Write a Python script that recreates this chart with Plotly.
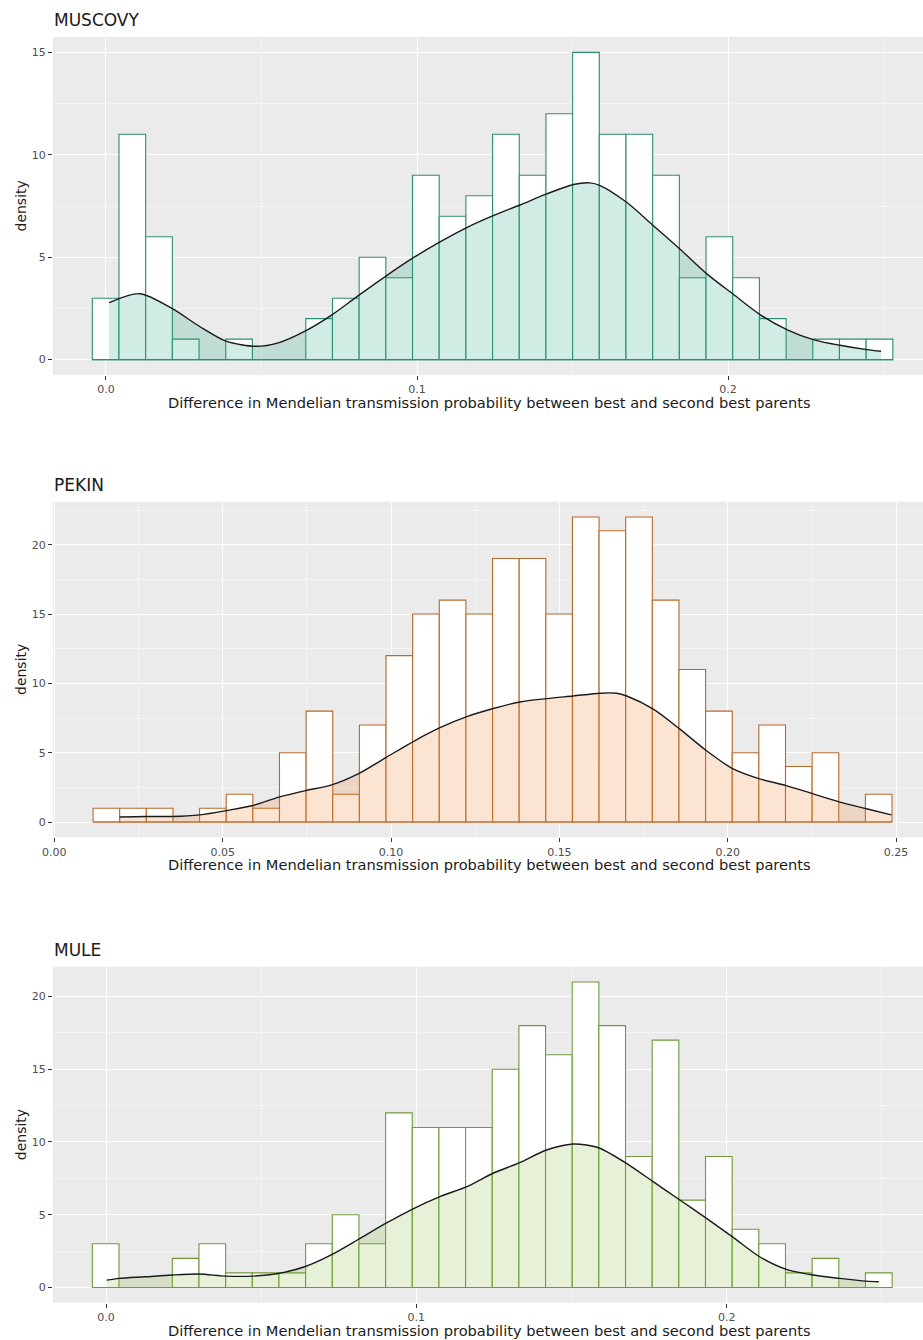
import plotly.graph_objects as go

# ---- histogram data (density per bin, 30 bins each) ----
muscovy_bin_start = -0.0044
muscovy_bin_width = 0.00858
muscovy_hist = [3, 11, 6, 1, 0, 1, 0, 0, 2, 3, 5, 4, 9, 7, 8,
                11, 9, 12, 15, 11, 11, 9, 4, 6, 4, 2, 0, 1, 1, 1]

pekin_bin_start = 0.0115
pekin_bin_width = 0.00791
pekin_hist = [1, 1, 1, 0, 1, 2, 1, 5, 8, 2, 7, 12, 15, 16, 15,
              19, 19, 15, 22, 21, 22, 16, 11, 8, 5, 7, 4, 5, 0, 2]

mule_bin_start = -0.0044
mule_bin_width = 0.00859
mule_hist = [3, 0, 0, 2, 3, 1, 1, 1, 3, 5, 3, 12, 11, 11, 11,
             15, 18, 16, 21, 18, 9, 17, 6, 9, 4, 3, 1, 2, 0, 1]

# ---- kernel density estimates ----
muscovy_kde_x = [0.001, 0.0109, 0.0212, 0.030, 0.0386, 0.0484, 0.0554, 0.064,
                 0.0724, 0.0809, 0.090, 0.0991, 0.1074, 0.116, 0.1245, 0.1331,
                 0.1417, 0.1503, 0.1556, 0.1589, 0.1674, 0.176, 0.1846, 0.1931,
                 0.2017, 0.2103, 0.2189, 0.2274, 0.236, 0.2446, 0.2492]
muscovy_kde_y = [2.78, 3.22, 2.5, 1.63, 0.90, 0.65, 0.82, 1.39,
                 2.16, 3.10, 4.08, 5.0, 5.75, 6.45, 7.03, 7.55,
                 8.09, 8.55, 8.63, 8.5, 7.68, 6.54, 5.39, 4.2,
                 3.19, 2.2, 1.47, 0.98, 0.70, 0.49, 0.41]

pekin_kde_x = [0.0194, 0.0271, 0.0351, 0.0432, 0.0512, 0.059, 0.0667, 0.0746,
               0.0824, 0.0902, 0.0986, 0.107, 0.1147, 0.1225, 0.1304, 0.1383,
               0.1463, 0.1541, 0.1621, 0.167, 0.170, 0.1779, 0.1858, 0.1937,
               0.2016, 0.2095, 0.2174, 0.2254, 0.2333, 0.2412, 0.2486]
pekin_kde_y = [0.36, 0.4, 0.4, 0.52, 0.83, 1.19, 1.8, 2.27,
               2.68, 3.47, 4.67, 5.86, 6.82, 7.6, 8.19, 8.66,
               8.9, 9.09, 9.29, 9.29, 9.09, 8.14, 6.7, 5.14,
               3.83, 3.11, 2.63, 2.03, 1.44, 0.96, 0.52]

mule_kde_x = [0.0002, 0.0042, 0.0126, 0.0212, 0.030, 0.0386, 0.0471, 0.0555,
              0.064, 0.0724, 0.081, 0.0901, 0.0993, 0.1076, 0.1167, 0.1247,
              0.1333, 0.1419, 0.1505, 0.1548, 0.1591, 0.1677, 0.1763, 0.1849,
              0.1935, 0.2021, 0.2106, 0.2192, 0.2278, 0.2364, 0.245, 0.249]
mule_kde_y = [0.5, 0.62, 0.73, 0.85, 0.92, 0.78, 0.78, 0.96,
              1.42, 2.22, 3.26, 4.4, 5.44, 6.24, 6.97, 7.85,
              8.58, 9.45, 9.86, 9.79, 9.57, 8.53, 7.27, 6.01,
              4.75, 3.44, 2.11, 1.24, 0.85, 0.62, 0.43, 0.39]

panel_titles = ["MUSCOVY", "PEKIN", "MULE"]
x_title = "Difference in Mendelian transmission probability between best and second best parents"
y_title = "density"

W, H = 923, 1340
FONT = "DejaVu Sans"

panels = [
    dict(title=panel_titles[0], start=muscovy_bin_start, width=muscovy_bin_width,
         hist=muscovy_hist, kx=muscovy_kde_x, ky=muscovy_kde_y,
         edge="#2a8f72", fill="rgba(27,158,119,0.2)",
         top=37, bottom=375, xrange=[-0.01704, 0.2627], yrange=[-0.75, 15.75],
         xdtick=0.1, xfmt=".1f", ydtick=5),
    dict(title=panel_titles[1], start=pekin_bin_start, width=pekin_bin_width,
         hist=pekin_hist, kx=pekin_kde_x, ky=pekin_kde_y,
         edge="#b8682a", fill="rgba(240,120,30,0.2)",
         top=501.7, bottom=837.3, xrange=[-0.0004, 0.258], yrange=[-1.1, 23.1],
         xdtick=0.05, xfmt=".2f", ydtick=5),
    dict(title=panel_titles[2], start=mule_bin_start, width=mule_bin_width,
         hist=mule_hist, kx=mule_kde_x, ky=mule_kde_y,
         edge="#6e9a3a", fill="rgba(120,180,40,0.18)",
         top=966.7, bottom=1302.7, xrange=[-0.01708, 0.26325], yrange=[-1.05, 22.05],
         xdtick=0.1, xfmt=".1f", ydtick=5),
]

fig = go.Figure()
annotations = []
left_px = 53

for i, p in enumerate(panels):
    n = i + 1
    xa = "x" if n == 1 else f"x{n}"
    ya = "y" if n == 1 else f"y{n}"
    nbins = len(p["hist"])
    centers = [p["start"] + (k + 0.5) * p["width"] for k in range(nbins)]

    # histogram bars: white with coloured outline
    fig.add_trace(go.Bar(
        x=centers, y=p["hist"], width=p["width"],
        marker=dict(color="white", line=dict(color=p["edge"], width=1.1)),
        xaxis=xa, yaxis=ya, showlegend=False, hoverinfo="skip",
    ))
    # outline along the base of the bins (also covers empty bins)
    fig.add_trace(go.Scatter(
        x=[p["start"], p["start"] + nbins * p["width"]], y=[0, 0], mode="lines",
        line=dict(color=p["edge"], width=1.1),
        xaxis=xa, yaxis=ya, showlegend=False, hoverinfo="skip",
    ))
    # density curve with translucent fill on top of the bars
    fig.add_trace(go.Scatter(
        x=p["kx"], y=p["ky"], mode="lines",
        line=dict(color="#1a1a1a", width=1.4, shape="spline", smoothing=0.8),
        fill="tozeroy", fillcolor=p["fill"],
        xaxis=xa, yaxis=ya, showlegend=False, hoverinfo="skip",
    ))

    y0 = 1 - p["bottom"] / H
    y1 = 1 - p["top"] / H
    axis_common = dict(
        automargin=False,
        showgrid=True, gridcolor="white", gridwidth=1.3,
        zeroline=False, showline=False,
        ticks="outside", ticklen=4, tickwidth=1, tickcolor="#333333",
        tickfont=dict(family=FONT, size=11, color="#4d4d4d"),
    )
    fig.layout[("xaxis" if n == 1 else f"xaxis{n}")] = dict(
        axis_common, domain=[left_px / W, 1.0], anchor=ya,
        range=p["xrange"], tick0=0, dtick=p["xdtick"], tickformat=p["xfmt"],
        minor=dict(dtick=p["xdtick"] / 2, tick0=0, showgrid=True,
                   gridcolor="#f4f4f4", gridwidth=0.7, ticks=""),
    )
    fig.layout[("yaxis" if n == 1 else f"yaxis{n}")] = dict(
        axis_common, domain=[y0, y1], anchor=xa,
        range=p["yrange"], tick0=0, dtick=p["ydtick"],
        minor=dict(dtick=p["ydtick"] / 2, tick0=0, showgrid=True,
                   gridcolor="#f4f4f4", gridwidth=0.7, ticks=""),
    )

    # panel title
    annotations.append(dict(
        text=p["title"], xref="paper", yref="paper",
        x=(left_px - 1) / W, y=1 - (p["top"] - 17) / H,
        xanchor="left", yanchor="middle", showarrow=False,
        font=dict(family=FONT, size=17, color="#1a1a1a"),
    ))
    # x-axis title
    annotations.append(dict(
        text=x_title, xref="paper", yref="paper",
        x=489 / W, y=1 - (p["bottom"] + 27.5) / H,
        xanchor="center", yanchor="middle", showarrow=False,
        font=dict(family=FONT, size=14.6, color="#1a1a1a"),
    ))
    # y-axis title
    annotations.append(dict(
        text=y_title, xref="paper", yref="paper",
        x=20.5 / W, y=1 - ((p["top"] + p["bottom"]) / 2) / H,
        xanchor="center", yanchor="middle", showarrow=False, textangle=-90,
        font=dict(family=FONT, size=14, color="#1a1a1a"),
    ))

fig.update_layout(
    width=W, height=H,
    margin=dict(l=0, r=0, t=0, b=0),
    paper_bgcolor="white",
    plot_bgcolor="#ebebeb",
    barmode="overlay",
    annotations=annotations,
    font=dict(family=FONT),
)

fig.write_html("out.html")
